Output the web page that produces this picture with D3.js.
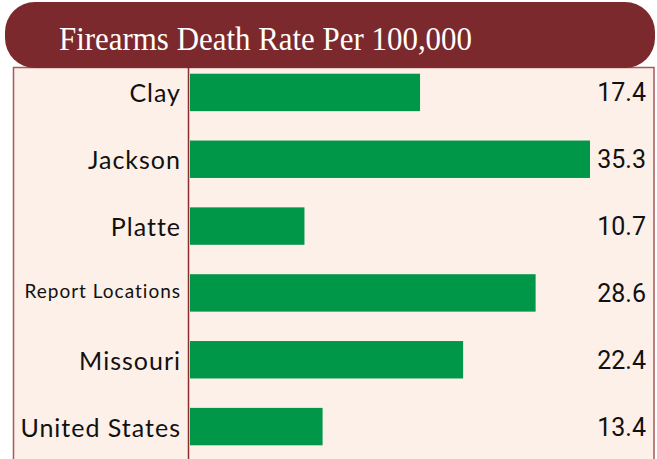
<!DOCTYPE html>
<html>
<head>
<meta charset="utf-8">
<script src="https://cdn.jsdelivr.net/npm/d3@7"></script>
<style>
  body { margin: 0; background: #ffffff; }
  svg { display: block; }
</style>
</head>
<body>
<div id="chart"></div>
<script>
// DATA
const categories = ["Clay", "Jackson", "Platte", "Report Locations", "Missouri", "United States"]
const rates = [17.4, 35.3, 10.7, 28.6, 22.4, 13.4]
// the original bars are not drawn to scale, so their lengths are read off the picture separately
const barLengths = [20.3, 35.3, 10.1, 30.5, 24.1, 11.7]
const titleText = "Firearms Death Rate Per 100,000"

const width = 657
const height = 459

const svg = d3.select("#chart")
  .append("svg")
  .attr("width", width)
  .attr("height", height)

// panel behind the bars
svg.append("rect")
  .attr("x", 13.5)
  .attr("y", 67.5)
  .attr("width", 640.5)
  .attr("height", 400)
  .attr("fill", "#fcf0e8")
  .attr("stroke", "#a8585a")
  .attr("stroke-width", 1.5)

// SCALES
const xScale = d3.scaleLinear()
  .domain([0, d3.max(barLengths)])
  .range([190, 590])

const yScale = d3.scaleBand()
  .domain(categories)
  .range([59, 460])
  .paddingInner(0.44)
  .paddingOuter(0.22)

const rows = categories.map((c, i) => ({ name: c, rate: rates[i], len: barLengths[i] }))

// DRAW BARS
svg.selectAll("rect.bar")
  .data(rows)
  .join("rect")
    .attr("class", "bar")
    .attr("x", xScale(0))
    .attr("y", d => yScale(d.name))
    .attr("width", d => xScale(d.len) - xScale(0))
    .attr("height", yScale.bandwidth())
    .attr("fill", "#009748")

// axis line on the left of the bars
svg.append("line")
  .attr("x1", 188.5).attr("x2", 188.5)
  .attr("y1", 67).attr("y2", height)
  .attr("stroke", "#8b2e30")
  .attr("stroke-width", 1.5)

// category labels (original face is wider than Lato, so add some tracking)
svg.selectAll("text.cat")
  .data(rows)
  .join("text")
    .attr("class", "cat")
    .attr("x", 181)
    .attr("y", d => yScale(d.name) + yScale.bandwidth() / 2 + (d.name === "Report Locations" ? 5 : 10))
    .attr("text-anchor", "end")
    .attr("font-family", "Lato, 'Noto Sans', sans-serif")
    .attr("font-size", d => d.name === "Report Locations" ? 19 : 25)
    .attr("letter-spacing", 1)
    .attr("fill", "#111111")
    .text(d => d.name)

// value labels
svg.selectAll("text.val")
  .data(rows)
  .join("text")
    .attr("class", "val")
    .attr("x", 646)
    .attr("y", d => yScale(d.name) + yScale.bandwidth() / 2 + 9)
    .attr("text-anchor", "end")
    .attr("font-family", "Roboto, sans-serif")
    .attr("font-size", 25)
    .attr("fill", "#111111")
    .text(d => d3.format(".1f")(d.rate))

// TITLE BANNER
svg.append("rect")
  .attr("x", 5)
  .attr("y", 2)
  .attr("width", 650)
  .attr("height", 66)
  .attr("rx", 30)
  .attr("ry", 30)
  .attr("fill", "#7b292c")

svg.append("text")
  .attr("x", 59)
  .attr("y", 50)
  .attr("font-family", "'Liberation Serif', 'DejaVu Serif', serif")
  .attr("font-size", 33)
  .attr("textLength", 413)
  .attr("lengthAdjust", "spacingAndGlyphs")
  .attr("fill", "#ffffff")
  .text(titleText)
</script>
</body>
</html>
